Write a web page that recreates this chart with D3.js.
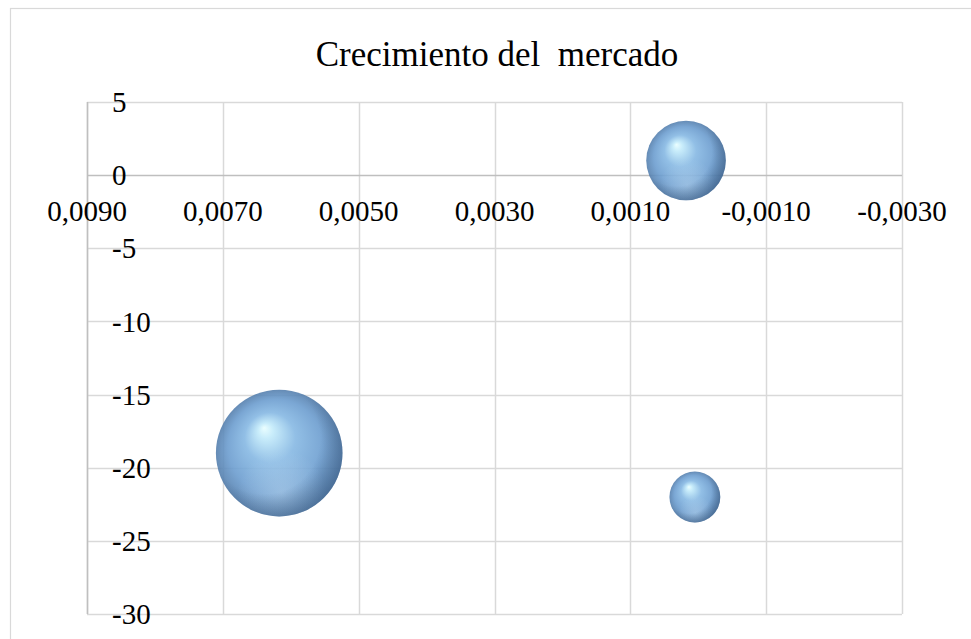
<!DOCTYPE html>
<html>
<head>
<meta charset="utf-8">
<script src="https://cdn.jsdelivr.net/npm/d3@7"></script>
<style>
  body { margin: 0; background: #ffffff; }
  text { font-family: "Liberation Serif", "Times New Roman", serif; fill: #000000; }
</style>
</head>
<body>
<svg id="chart" width="971" height="639"></svg>
<script>
// data
var xValues = [0.00617, 0.00018, 0.00005];
var yValues = [-19, 1, -22];
var bubbleSizes = [6.2, 2.45, 1.0];
var xTicks = [0.009, 0.007, 0.005, 0.003, 0.001, -0.001, -0.003];
var yTicks = [5, 0, -5, -10, -15, -20, -25, -30];
var title = "Crecimiento del\u00a0 mercado";

var plotLeft = 87, plotRight = 902, plotTop = 102, plotBottom = 614;

var svg = d3.select("#chart");

var locale = d3.formatLocale({ decimal: ",", thousands: ".", grouping: [3], currency: ["", "€"], minus: "-" });
var fmtX = locale.format(".4f");
var fmtY = locale.format("d");

var x = d3.scaleLinear().domain([0.009, -0.003]).range([plotLeft, plotRight]);
var y = d3.scaleLinear().domain([5, -30]).range([plotTop, plotBottom]);
var r = d3.scaleSqrt().domain([0, d3.max(bubbleSizes)]).range([0, 63.3]);

// chart frame
svg.append("rect")
  .attr("x", 10.5).attr("y", 8.5)
  .attr("width", 980).attr("height", 700)
  .attr("fill", "#ffffff")
  .attr("stroke", "#d9d9d9").attr("stroke-width", 1.2);

var defs = svg.append("defs");
var g1 = defs.append("radialGradient").attr("id", "ball")
  .attr("cx", "50%").attr("cy", "50%").attr("r", "50%")
  .attr("fx", "38%").attr("fy", "30%");
[["0%", "#e8feff"], ["12%", "#c2eafa"], ["40%", "#86b8e3"], ["75%", "#6c9dcf"], ["100%", "#557fad"]]
  .forEach(function(s) { g1.append("stop").attr("offset", s[0]).attr("stop-color", s[1]); });

var g2 = defs.append("radialGradient").attr("id", "rim")
  .attr("cx", "38%").attr("cy", "38%").attr("r", "68%");
g2.append("stop").attr("offset", "65%").attr("stop-color", "#2c4f78").attr("stop-opacity", 0);
g2.append("stop").attr("offset", "100%").attr("stop-color", "#2c4f78").attr("stop-opacity", 0.5);

var g3 = defs.append("radialGradient").attr("id", "glow")
  .attr("cx", "52%").attr("cy", "82%").attr("r", "35%");
g3.append("stop").attr("offset", "0%").attr("stop-color", "#cfe6f7").attr("stop-opacity", 0.35);
g3.append("stop").attr("offset", "100%").attr("stop-color", "#cfe6f7").attr("stop-opacity", 0);

// grid
var grid = svg.append("g");
grid.selectAll(".vx").data(xTicks).enter().append("line")
  .attr("x1", function(d) { return Math.round(x(d)) + 0.5; })
  .attr("x2", function(d) { return Math.round(x(d)) + 0.5; })
  .attr("y1", plotTop).attr("y2", plotBottom)
  .attr("stroke", "#d9d9d9").attr("stroke-width", 1.5);
grid.selectAll(".hy").data(yTicks).enter().append("line")
  .attr("x1", plotLeft).attr("x2", plotRight)
  .attr("y1", function(d) { return Math.round(y(d)) + 0.5; })
  .attr("y2", function(d) { return Math.round(y(d)) + 0.5; })
  .attr("stroke", function(d) { return d == 0 ? "#bfbfbf" : "#d9d9d9"; })
  .attr("stroke-width", 1.5);
// vertical axis line
svg.append("line")
  .attr("x1", plotLeft + 0.5).attr("x2", plotLeft + 0.5)
  .attr("y1", plotTop).attr("y2", plotBottom)
  .attr("stroke", "#bfbfbf").attr("stroke-width", 1.5);

// bubbles
var data = xValues.map(function(v, i) { return { x: v, y: yValues[i], s: bubbleSizes[i] }; });
data.sort(function(a, b) { return b.s - a.s; });
var bub = svg.append("g").selectAll("g").data(data).enter().append("g")
  .attr("transform", function(d) { return "translate(" + x(d.x) + "," + y(d.y) + ")"; });
bub.append("circle").attr("r", function(d) { return r(d.s); })
  .attr("fill", "url(#ball)").attr("fill-opacity", 0.9);
bub.append("circle").attr("r", function(d) { return r(d.s); })
  .attr("fill", "url(#glow)");
bub.append("circle").attr("r", function(d) { return r(d.s); })
  .attr("fill", "url(#rim)");

// tick labels
svg.append("g").selectAll("text").data(xTicks).enter().append("text")
  .attr("x", function(d) { return x(d); })
  .attr("y", y(0) + 46)
  .attr("text-anchor", "middle")
  .style("font-size", "29px")
  .text(function(d) { return fmtX(d); });

// value labels sit inside the plot, to the right of the axis line
svg.append("g").selectAll("text").data(yTicks).enter().append("text")
  .attr("x", plotLeft + 25)
  .attr("y", function(d) { return y(d); })
  .attr("dy", "0.35em")
  .attr("text-anchor", "start")
  .style("font-size", "29px")
  .text(function(d) { return fmtY(d); });

svg.append("text")
  .attr("x", 497).attr("y", 66)
  .attr("text-anchor", "middle")
  .style("font-size", "35px")
  .text(title);
</script>
</body>
</html>
